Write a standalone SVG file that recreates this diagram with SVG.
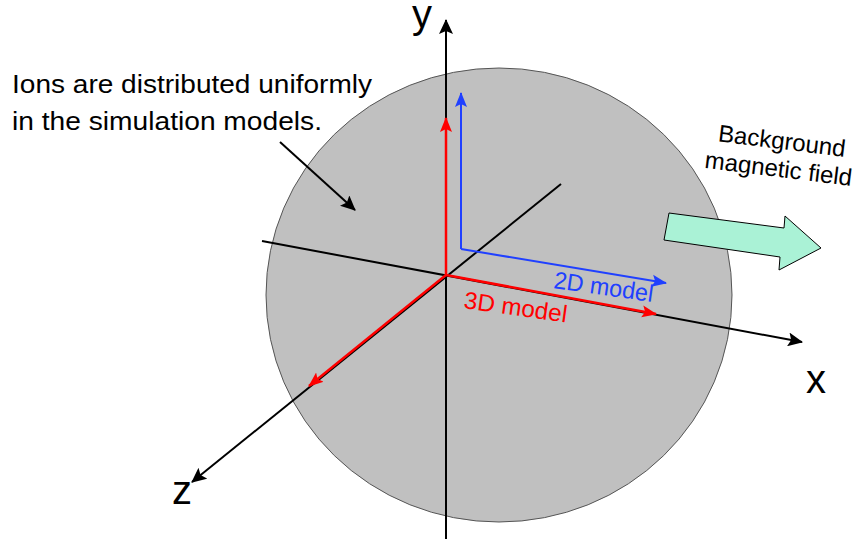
<svg xmlns="http://www.w3.org/2000/svg" width="858" height="544" viewBox="0 0 858 544">
<style>
text{font-family:"Liberation Sans",Arial,sans-serif;}
.axis{stroke:#000;stroke-width:2;fill:none;}
.red{stroke:#ff0000;stroke-width:2.5;fill:none;}
.blue{stroke:#2040ff;stroke-width:2;fill:none;}
.lbl{font-size:40px;fill:#000;}
</style>
<defs>
<marker id="ab" markerUnits="userSpaceOnUse" markerWidth="16" markerHeight="14" refX="14" refY="7" orient="auto"><path d="M0,0 L15,7 L0,14 L3,7 z" fill="#000"/></marker>
<marker id="ar" markerUnits="userSpaceOnUse" markerWidth="16" markerHeight="14" refX="14" refY="7" orient="auto"><path d="M0,1 L15,7 L0,13 L3,7 z" fill="#ff0000"/></marker>
<marker id="abl" markerUnits="userSpaceOnUse" markerWidth="16" markerHeight="14" refX="14" refY="7" orient="auto"><path d="M0,1 L15,7 L0,13 L3,7 z" fill="#2040ff"/></marker>
</defs>
<rect width="858" height="544" fill="#fff"/>
<g id="sphere"><ellipse cx="499" cy="295" rx="233" ry="227" fill="#c0c0c0" stroke="#555" stroke-width="1"/></g>
<g id="field"><polygon points="669,213 784,228 785,216 821,248 779,270 780,257 664,240" fill="#aaf2d6" stroke="#000" stroke-width="1"/>
<g transform="translate(781,149) rotate(7)"><text x="0" y="0" font-size="24" text-anchor="middle">Background</text><text x="0" y="28" font-size="24" text-anchor="middle">magnetic field</text></g></g>
<g id="connectors">
<line class="axis" x1="446" y1="539" x2="446" y2="20" marker-end="url(#ab)"/>
<line class="axis" x1="262" y1="241" x2="802" y2="342" marker-end="url(#ab)"/>
<line class="axis" x1="561" y1="184" x2="192" y2="482" marker-end="url(#ab)"/>
<line class="red" x1="446" y1="275" x2="446" y2="118" marker-end="url(#ar)"/>
<line class="red" x1="446" y1="275" x2="656" y2="314" marker-end="url(#ar)"/>
<line class="red" x1="446" y1="275" x2="309" y2="386" marker-end="url(#ar)"/>
<polyline class="blue" points="461,249 666,283" marker-end="url(#abl)"/>
<line class="blue" x1="461" y1="249" x2="461" y2="93" marker-end="url(#abl)"/>
<line class="axis" x1="280" y1="142" x2="355" y2="210" marker-end="url(#ab)"/>
</g>
<g id="labels">
<text class="lbl" x="412" y="28">y</text>
<text class="lbl" x="806" y="393">x</text>
<text class="lbl" x="172" y="504">z</text>
<text x="553" y="288" font-size="24" fill="#2040ff" transform="rotate(8 553 288)" textLength="100" lengthAdjust="spacingAndGlyphs">2D model</text>
<text x="463" y="308" font-size="24" fill="#ff0000" transform="rotate(8 463 308)" textLength="104" lengthAdjust="spacingAndGlyphs">3D model</text>
<text x="12" y="93" font-size="26" textLength="360" lengthAdjust="spacingAndGlyphs">Ions are distributed uniformly</text>
<text x="12" y="130" font-size="26" textLength="310" lengthAdjust="spacingAndGlyphs">in the simulation models.</text>
</g>
</svg>
